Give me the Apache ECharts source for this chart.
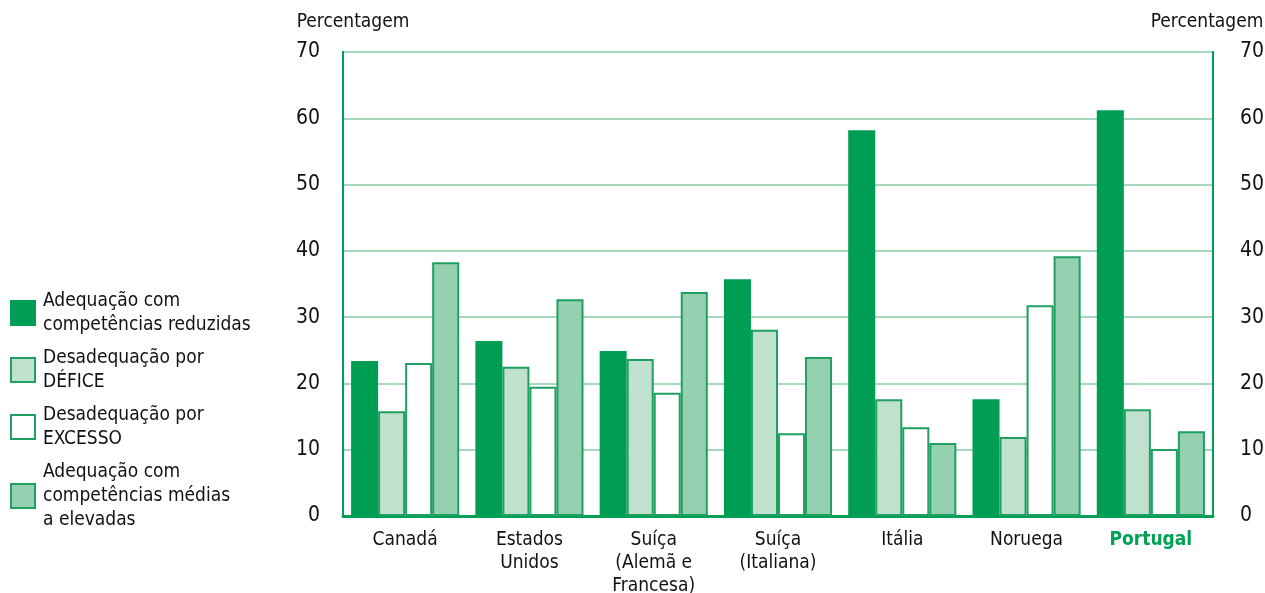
<!DOCTYPE html>
<html>
<head>
<meta charset="utf-8">
<script src="https://cdn.jsdelivr.net/npm/echarts@6/dist/echarts.min.js"></script>
<style>
  html, body { margin: 0; padding: 0; background: #fff; }
  #chart { width: 1265px; height: 593px; }
</style>
</head>
<body>
<div id="chart"></div>
<script>
// categorias e valores (percentagem)
var paises = ['Canadá', 'Estados\nUnidos', 'Suíça\n(Alemã e\nFrancesa)', 'Suíça\n(Italiana)', 'Itália', 'Noruega', 'Portugal'];
var reduzidas = [23.4, 26.4, 24.9, 35.7, 58.2, 17.6, 61.2];
var defice = [15.8, 22.5, 23.7, 28.1, 17.6, 11.9, 16.1];
var excesso = [23.1, 19.5, 18.6, 12.5, 13.4, 31.8, 10.1];
var mediasElevadas = [38.3, 32.7, 33.8, 24.0, 11.0, 39.2, 12.8];
var nomesSeries = [
	'Adequação com\ncompetências reduzidas',
	'Desadequação por\nDÉFICE',
	'Desadequação por\nEXCESSO',
	'Adequação com\ncompetências médias\na elevadas'
];

var verde = '#00a055';
var borda = '#1fa060';
var fonte = '"DejaVu Sans Condensed", "DejaVu Sans", sans-serif';

function serie(nome, dados, cor, corBorda) {
	return {
		name: nome,
		type: 'bar',
		data: dados,
		barGap: '0%',
		barCategoryGap: '13%',
		itemStyle: {
			color: cor,
			borderColor: corBorda,
			borderWidth: 2
		}
	};
}

function eixoY(pos, pad) {
	return {
		type: 'value',
		position: pos,
		min: 0,
		max: 70,
		interval: 10,
		name: 'Percentagem',
		nameLocation: 'end',
		nameGap: 20,
		nameTextStyle: {
			color: '#111',
			fontSize: 19,
			fontFamily: fonte,
			padding: pad
		},
		axisLine: { show: true, lineStyle: { color: verde, width: 2 } },
		axisTick: { show: false },
		axisLabel: {
			color: '#111',
			fontSize: 21,
			fontFamily: fonte,
			margin: pos === 'left' ? 23 : 27
		},
		splitLine: {
			show: pos === 'left',
			lineStyle: { color: '#a6d8bb', width: 2 }
		}
	};
}

function desenhar() {
	var chart = echarts.init(document.getElementById('chart'));
	var option = {
		animation: false,
		grid: {
			left: 343,
			right: 52,
			top: 52,
			bottom: 77,
			outerBoundsMode: 'none',
			containLabel: false,
			show: true,
			borderColor: verde,
			borderWidth: 2
		},
		legend: {
			orient: 'vertical',
			left: 5,
			top: 284,
			itemWidth: 24,
			itemHeight: 24,
			itemGap: 9,
			icon: 'rect',
			textStyle: {
				color: '#111',
				fontSize: 19,
				fontFamily: fonte,
				lineHeight: 24,
				padding: [0, 0, 0, 3]
			},
			data: nomesSeries
		},
		xAxis: {
			type: 'category',
			data: paises,
			axisLine: { show: true, lineStyle: { color: verde, width: 3 } },
			axisTick: { show: false },
			axisLabel: {
				color: '#111',
				fontSize: 19,
				fontFamily: fonte,
				lineHeight: 23,
				margin: 13,
				interval: 0,
				formatter: function (v) {
					return v === 'Portugal' ? '{pt|' + v + '}' : v;
				},
				rich: {
					pt: {
						color: verde,
						fontWeight: 'bold',
						fontSize: 19,
						fontFamily: fonte
					}
				}
			}
		},
		yAxis: [eixoY('left', [0, 0, 0, 20]), eixoY('right', [0, 12, 0, 0])],
		series: [
			serie(nomesSeries[0], reduzidas, '#009e55', '#009e55'),
			serie(nomesSeries[1], defice, '#bfe1cd', borda),
			serie(nomesSeries[2], excesso, '#ffffff', borda),
			serie(nomesSeries[3], mediasElevadas, '#95d0b1', borda)
		]
	};
	chart.setOption(option);
	window.onresize = function () {
		chart.resize();
	};
}

// esperar pela fonte antes de desenhar
if (document.fonts && document.fonts.load) {
	Promise.all([
		document.fonts.load('20px "DejaVu Sans Condensed"'),
		document.fonts.load('bold 20px "DejaVu Sans Condensed"')
	]).then(desenhar, desenhar);
} else {
	desenhar();
}
</script>
</body>
</html>
